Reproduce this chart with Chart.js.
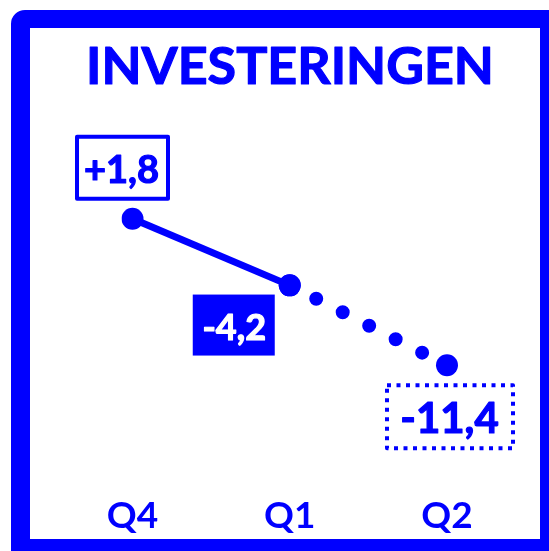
<!DOCTYPE html>
<html>
<head>
<meta charset="utf-8">
<script src="https://cdn.jsdelivr.net/npm/chart.js@4.4.1/dist/chart.umd.min.js"></script>
<style>
  html, body { margin: 0; padding: 0; background: #fff; overflow: hidden; }
  #frame {
    position: absolute; left: 11px; top: 10px; width: 548px; height: 548px;
    box-sizing: border-box; border: 19px solid #0000ff; border-top-width: 18px;
    border-top-left-radius: 14px;
  }
  #wrap { position: absolute; left: 0; top: 0; width: 549px; height: 551px; }
</style>
</head>
<body>
<div id="frame"></div>
<div id="wrap"><canvas id="chart"></canvas></div>
<script>
const quarters = ['Q4', 'Q1', 'Q2'];
const values = [1.8, -4.2, -11.4];
const valueLabels = ['+1,8', '-4,2', '-11,4'];
const chartTitle = 'INVESTERINGEN';

const blue = '#0000ff';
const fontFamily = 'Lato, "Open Sans", sans-serif';

// first stretch is drawn solid, the last one dotted
const solidPart = values.map((v, i) => i <= 1 ? v : null);
const dottedPart = values.map((v, i) => i >= 1 ? v : null);

// how each value label sits next to its point
const labelStyles = [
  { kind: 'outline', dx: -10, dy: -51, w: 95, h: 66, tx: -11, ty: -36, size: 38 },
  { kind: 'filled', dx: -56, dy: 39.7, w: 82, h: 61, tx: -55.5, ty: 55, size: 36 },
  { kind: 'dotted', dx: 3, dy: 51.5, w: 130, h: 67, tx: 2.5, ty: 68, size: 42 }
];

function heavyText(ctx, text, x, y, color) {
  ctx.fillStyle = color;
  ctx.strokeStyle = color;
  ctx.lineWidth = 1.2;
  ctx.lineJoin = 'round';
  ctx.fillText(text, x, y);
  ctx.strokeText(text, x, y);
}

const decorations = {
  id: 'decorations',
  afterDatasetsDraw(chart) {
    const ctx = chart.ctx;
    ctx.save();
    ctx.textAlign = 'center';
    ctx.textBaseline = 'alphabetic';
    ctx.font = `bold 52px ${fontFamily}`;
    heavyText(ctx, chartTitle, 290, 84, blue);

    const xs = chart.scales.x, ys = chart.scales.y;
    values.forEach((v, i) => {
      const px = xs.getPixelForValue(i);
      const py = ys.getPixelForValue(v);
      const s = labelStyles[i];
      const left = px + s.dx - s.w / 2;
      const top = py + s.dy - s.h / 2;
      if (s.kind === 'filled') {
        ctx.fillStyle = blue;
        ctx.fillRect(left, top, s.w, s.h);
      } else {
        ctx.strokeStyle = blue;
        ctx.lineWidth = 4;
        ctx.setLineDash(s.kind === 'dotted' ? [4, 5.5] : []);
        ctx.strokeRect(left + 2, top + 2, s.w - 4, s.h - 4);
        ctx.setLineDash([]);
      }
      ctx.font = `bold ${s.size}px ${fontFamily}`;
      heavyText(ctx, valueLabels[i], px + s.tx, py + s.ty, s.kind === 'filled' ? '#fff' : blue);
    });
    ctx.restore();
  }
};

new Chart(document.getElementById('chart'), {
  type: 'line',
  data: {
    labels: quarters,
    datasets: [
      {
        data: solidPart,
        borderColor: blue,
        backgroundColor: blue,
        borderWidth: 7,
        pointRadius: 11,
        pointBorderWidth: 0,
        pointBackgroundColor: blue,
        spanGaps: false
      },
      {
        data: dottedPart,
        borderColor: blue,
        backgroundColor: blue,
        borderWidth: 14,
        borderCapStyle: 'round',
        borderDash: [0, 29.7],
        pointRadius: 11,
        pointBorderWidth: 0,
        pointBackgroundColor: blue,
        spanGaps: false
      }
    ]
  },
  options: {
    responsive: true,
    maintainAspectRatio: false,
    animation: false,
    layout: { padding: { left: 132.5, right: 102, top: 149.9, bottom: 12.5 } },
    plugins: { legend: { display: false }, tooltip: { enabled: false }, title: { display: false } },
    scales: {
      x: {
        offset: false,
        grid: { display: false, drawTicks: false, tickLength: 0 },
        border: { display: false },
        ticks: { color: blue, padding: 0, font: { family: fontFamily, size: 37, weight: 'bold' } }
      },
      y: { display: false, min: -23, max: 8 }
    }
  },
  plugins: [decorations]
});
</script>
</body>
</html>
